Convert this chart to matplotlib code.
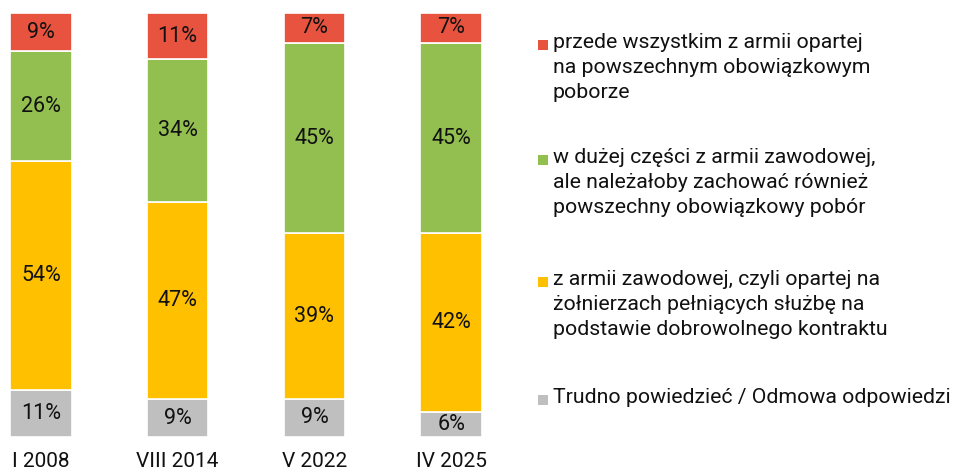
import matplotlib.pyplot as plt
from matplotlib.patches import Rectangle

plt.rcParams['font.family'] = ['Roboto', 'DejaVu Sans']

categories = ['I 2008', 'VIII 2014', 'V 2022', 'IV 2025']
# stacked bottom -> top
gray_vals = [11, 9, 9, 6]
yellow_vals = [54, 47, 39, 42]
green_vals = [26, 34, 45, 45]
red_vals = [9, 11, 7, 7]

series = [
    ('Trudno powiedzieć / Odmowa odpowiedzi', gray_vals, '#BFBFBF'),
    ('z armii zawodowej, czyli opartej na\nżołnierzach pełniących służbę na\npodstawie dobrowolnego kontraktu',
     yellow_vals, '#FFC000'),
    ('w dużej części z armii zawodowej,\nale należałoby zachować również\npowszechny obowiązkowy pobór',
     green_vals, '#92BF4F'),
    ('przede wszystkim z armii opartej\nna powszechnym obowiązkowym\npoborze', red_vals, '#E8533F'),
]

W, H = 955, 472
fig = plt.figure(figsize=(W / 100, H / 100), dpi=100)
ax = fig.add_axes([10 / W, (H - 437) / H, 472 / W, 424 / H])

x = list(range(len(categories)))
totals = [sum(s[1][i] for s in series) for i in x]
bottoms = [0.0] * len(x)
for name, vals, color in series:
    heights = [v / t * 100 for v, t in zip(vals, totals)]
    ax.bar(x, heights, width=0.45, bottom=bottoms, color=color,
           edgecolor='white', linewidth=1.2)
    for i, (h, v) in enumerate(zip(heights, vals)):
        ax.text(i, bottoms[i] + h / 2, f'{v}%', ha='center', va='center',
                fontsize=15.5, color='#111111')
    bottoms = [b + h for b, h in zip(bottoms, heights)]

ax.set_xlim(-0.225, 3.225)
ax.set_ylim(0, 100)
ax.set_xticks(x)
ax.set_xticklabels(categories, fontsize=15, color='#111111')
ax.tick_params(axis='x', length=0, pad=11)
ax.set_yticks([])
for sp in ax.spines.values():
    sp.set_visible(False)

# legend drawn by hand, top to bottom
legend_y = [45, 160, 282, 400]
for (name, vals, color), yc in zip(reversed(series), legend_y):
    fig.add_artist(Rectangle(((538) / W, (H - yc - 5) / H), 10 / W, 10 / H,
                             transform=fig.transFigure, color=color, lw=0))
    fig.text(553 / W, (H - yc + 12) / H, name, ha='left', va='top',
             fontsize=15.3, color='#111111', linespacing=1.4)

fig.savefig('out.png', dpi=100)
